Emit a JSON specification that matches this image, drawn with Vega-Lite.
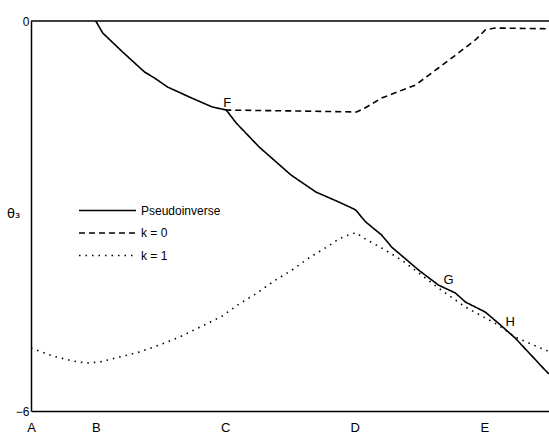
{
  "$schema": "https://vega.github.io/schema/vega-lite/v6.json",
  "width": 518,
  "height": 390,
  "autosize": {"type": "none"},
  "padding": {"left": 31, "top": 21, "right": 0, "bottom": 23},
  "background": "white",
  "config": {
    "view": {"stroke": null},
    "font": "Liberation Sans",
    "axis": {"domainColor": "black", "domainWidth": 1.5, "grid": false, "ticks": false, "labelColor": "black", "titleColor": "black", "labelFont": "Liberation Sans", "titleFont": "DejaVu Sans"}
  },
  "datasets": {
    "curves": [
      {"series": "Pseudoinverse", "x": 1.0, "y": 0.0},
      {"series": "Pseudoinverse", "x": 1.108, "y": -0.185},
      {"series": "Pseudoinverse", "x": 1.415, "y": -0.477},
      {"series": "Pseudoinverse", "x": 1.754, "y": -0.785},
      {"series": "Pseudoinverse", "x": 1.908, "y": -0.877},
      {"series": "Pseudoinverse", "x": 2.108, "y": -1.015},
      {"series": "Pseudoinverse", "x": 2.446, "y": -1.169},
      {"series": "Pseudoinverse", "x": 2.8, "y": -1.323},
      {"series": "Pseudoinverse", "x": 3.015, "y": -1.369},
      {"series": "Pseudoinverse", "x": 3.169, "y": -1.569},
      {"series": "Pseudoinverse", "x": 3.523, "y": -1.938},
      {"series": "Pseudoinverse", "x": 4.015, "y": -2.369},
      {"series": "Pseudoinverse", "x": 4.4, "y": -2.631},
      {"series": "Pseudoinverse", "x": 4.754, "y": -2.785},
      {"series": "Pseudoinverse", "x": 4.954, "y": -2.877},
      {"series": "Pseudoinverse", "x": 5.015, "y": -2.908},
      {"series": "Pseudoinverse", "x": 5.169, "y": -3.092},
      {"series": "Pseudoinverse", "x": 5.415, "y": -3.292},
      {"series": "Pseudoinverse", "x": 5.569, "y": -3.477},
      {"series": "Pseudoinverse", "x": 5.985, "y": -3.831},
      {"series": "Pseudoinverse", "x": 6.292, "y": -4.062},
      {"series": "Pseudoinverse", "x": 6.554, "y": -4.185},
      {"series": "Pseudoinverse", "x": 6.708, "y": -4.323},
      {"series": "Pseudoinverse", "x": 7.015, "y": -4.477},
      {"series": "Pseudoinverse", "x": 7.215, "y": -4.646},
      {"series": "Pseudoinverse", "x": 7.477, "y": -4.877},
      {"series": "Pseudoinverse", "x": 7.938, "y": -5.369},
      {"series": "Pseudoinverse", "x": 8.0, "y": -5.43},
      {"series": "k = 0", "x": 3.0, "y": -1.37},
      {"series": "k = 0", "x": 4.138, "y": -1.385},
      {"series": "k = 0", "x": 5.03, "y": -1.4},
      {"series": "k = 0", "x": 5.185, "y": -1.323},
      {"series": "k = 0", "x": 5.415, "y": -1.185},
      {"series": "k = 0", "x": 5.938, "y": -0.985},
      {"series": "k = 0", "x": 6.292, "y": -0.723},
      {"series": "k = 0", "x": 6.6, "y": -0.492},
      {"series": "k = 0", "x": 6.862, "y": -0.292},
      {"series": "k = 0", "x": 7.015, "y": -0.138},
      {"series": "k = 0", "x": 7.169, "y": -0.108},
      {"series": "k = 0", "x": 8.0, "y": -0.12},
      {"series": "k = 1", "x": 0.0, "y": -5.03},
      {"series": "k = 1", "x": 0.338, "y": -5.154},
      {"series": "k = 1", "x": 0.646, "y": -5.231},
      {"series": "k = 1", "x": 0.862, "y": -5.262},
      {"series": "k = 1", "x": 1.062, "y": -5.246},
      {"series": "k = 1", "x": 1.369, "y": -5.169},
      {"series": "k = 1", "x": 1.677, "y": -5.092},
      {"series": "k = 1", "x": 1.985, "y": -4.985},
      {"series": "k = 1", "x": 2.292, "y": -4.862},
      {"series": "k = 1", "x": 2.677, "y": -4.677},
      {"series": "k = 1", "x": 2.954, "y": -4.538},
      {"series": "k = 1", "x": 3.215, "y": -4.354},
      {"series": "k = 1", "x": 3.492, "y": -4.185},
      {"series": "k = 1", "x": 3.754, "y": -4.0},
      {"series": "k = 1", "x": 4.031, "y": -3.831},
      {"series": "k = 1", "x": 4.292, "y": -3.646},
      {"series": "k = 1", "x": 4.569, "y": -3.477},
      {"series": "k = 1", "x": 4.754, "y": -3.354},
      {"series": "k = 1", "x": 4.938, "y": -3.277},
      {"series": "k = 1", "x": 5.03, "y": -3.26},
      {"series": "k = 1", "x": 5.108, "y": -3.323},
      {"series": "k = 1", "x": 5.415, "y": -3.492},
      {"series": "k = 1", "x": 5.723, "y": -3.677},
      {"series": "k = 1", "x": 6.031, "y": -3.908},
      {"series": "k = 1", "x": 6.292, "y": -4.108},
      {"series": "k = 1", "x": 6.708, "y": -4.4},
      {"series": "k = 1", "x": 7.215, "y": -4.677},
      {"series": "k = 1", "x": 7.477, "y": -4.862},
      {"series": "k = 1", "x": 7.938, "y": -5.062},
      {"series": "k = 1", "x": 8.0, "y": -5.08}
    ],
    "labels": [
      {"text": "F", "x": 3.03, "y": -1.26},
      {"text": "G", "x": 6.45, "y": -3.98},
      {"text": "H", "x": 7.4, "y": -4.63}
    ],
    "top": [
      {"y": 0}
    ]
  },
  "layer": [
    {
      "data": {"name": "curves"},
      "mark": {"type": "line", "color": "black", "strokeWidth": 1.6, "clip": true},
      "encoding": {
        "x": {"field": "x", "type": "quantitative", "scale": {"domain": [0, 8], "nice": false, "zero": false},
          "axis": {"orient": "bottom", "title": null, "values": [0, 1, 3, 5, 7], "labelExpr": "datum.value == 0 ? 'A' : datum.value == 1 ? 'B' : datum.value == 3 ? 'C' : datum.value == 5 ? 'D' : 'E'", "labelFontSize": 13, "labelPadding": 10, "labelFlush": false}},
        "y": {"field": "y", "type": "quantitative", "scale": {"domain": [-6, 0], "nice": false, "zero": false},
          "axis": {"orient": "left", "title": "θ₃", "values": [-6, 0], "format": "d", "labelFontSize": 12, "labelPadding": 2, "labelFlush": false, "titleAngle": 0, "titleAlign": "center", "titleBaseline": "middle", "titleX": -18, "titleY": 192, "titleFontSize": 13, "titleFontWeight": "normal"}},
        "strokeDash": {"field": "series", "type": "nominal",
          "scale": {"domain": ["Pseudoinverse", "k = 0", "k = 1"], "range": [[1, 0], [6, 4], [1.5, 5]]},
          "legend": {"orient": "none", "legendX": 66, "legendY": 179, "title": null, "symbolType": "M-3,0H3", "symbolSize": 361, "symbolStrokeWidth": 1.6, "symbolStrokeColor": "black", "labelFontSize": 12, "labelColor": "black", "labelOffset": 23, "rowPadding": 5.5}}
      }
    },
    {
      "data": {"name": "top"},
      "mark": {"type": "rule", "color": "black", "strokeWidth": 1.5},
      "encoding": {"y": {"field": "y", "type": "quantitative"}}
    },
    {
      "data": {"name": "labels"},
      "mark": {"type": "text", "fontSize": 13, "color": "black", "font": "Liberation Sans"},
      "encoding": {
        "x": {"field": "x", "type": "quantitative"},
        "y": {"field": "y", "type": "quantitative"},
        "text": {"field": "text"}
      }
    }
  ]
}
